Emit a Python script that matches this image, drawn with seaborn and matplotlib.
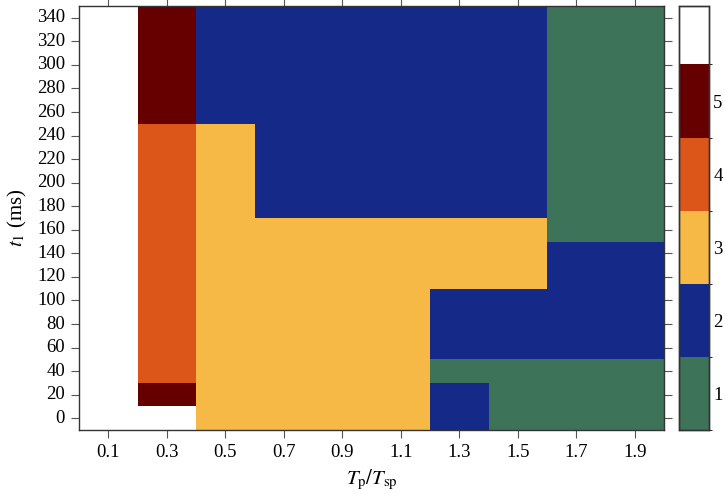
import numpy as np
import pandas as pd
import matplotlib
matplotlib.use("Agg")
import matplotlib.pyplot as plt
import seaborn as sns
from matplotlib.colors import ListedColormap, BoundaryNorm

# Tp/Tsp columns and t1 rows (ms)
x_vals = [0.1, 0.3, 0.5, 0.7, 0.9, 1.1, 1.3, 1.5, 1.7, 1.9]
y_vals = list(range(0, 341, 20))

# regime per cell, listed bottom (t1=0) to top (t1=340); 6 = blank
col_01 = [6] * 18
col_03 = [6, 5] + [4] * 11 + [5] * 5
col_05 = [3] * 13 + [2] * 5
col_07 = [3] * 9 + [2] * 9
col_09 = [3] * 9 + [2] * 9
col_11 = [3] * 9 + [2] * 9
col_13 = [2, 2, 1] + [2] * 3 + [3] * 3 + [2] * 9
col_15 = [1] * 3 + [2] * 3 + [3] * 3 + [2] * 9
col_17 = [1] * 3 + [2] * 5 + [1] * 10
col_19 = [1] * 3 + [2] * 5 + [1] * 10

cols = [col_01, col_03, col_05, col_07, col_09, col_11, col_13, col_15, col_17, col_19]
df = pd.DataFrame(np.array(cols).T, index=y_vals, columns=x_vals)

colors = ["#3d7358", "#152989", "#f7b945", "#dc5519", "#660000", "#ffffff"]
cmap = ListedColormap(colors)
norm = BoundaryNorm([0.5, 1.5, 2.5, 3.5, 4.5, 5.5, 6.5], cmap.N)

plt.rcParams["font.family"] = ["Liberation Serif", "DejaVu Serif"]
plt.rcParams["mathtext.fontset"] = "stix"

fig = plt.figure(figsize=(7.25, 4.94), dpi=100)
ax = fig.add_axes([79 / 725, 1 - 430 / 494, 585 / 725, 424 / 494])
cax = fig.add_axes([679 / 725, 1 - 430 / 494, 30 / 725, 424 / 494])

sns.heatmap(df, cmap=cmap, norm=norm, ax=ax, cbar_ax=cax,
            cbar_kws={"boundaries": [0.5, 1.5, 2.5, 3.5, 4.5, 5.5, 6.3],
                      "ticks": [1, 2, 3, 4, 5]})
ax.invert_yaxis()

ax.set_xticks(np.arange(len(x_vals)) + 0.5)
ax.set_xticklabels([f"{v:.1f}" for v in x_vals], rotation=0, fontsize=13.5)
ax.set_yticks(np.arange(len(y_vals)) + 0.5)
ax.set_yticklabels([str(v) for v in y_vals], rotation=0, fontsize=13.5)
ax.tick_params(axis="both", direction="out", length=6, color="#555555",
               top=True, right=True, labeltop=False, labelright=False, pad=4)
for s in ax.spines.values():
    s.set_visible(True)
    s.set_color("#333333")
    s.set_linewidth(1.0)

ax.set_xlabel(r"$T_{\mathrm{p}}/T_{\mathrm{sp}}$", fontsize=15, labelpad=5)
ax.set_ylabel(r"$t_1$ (ms)", fontsize=15, labelpad=6)

cax.tick_params(length=0, labelsize=13.5, pad=3)
cax.set_ylim(0.5, 6.3)
for s in cax.spines.values():
    s.set_visible(True)
    s.set_color("#333333")
    s.set_linewidth(1.0)

fig.savefig("out.png", dpi=100)
